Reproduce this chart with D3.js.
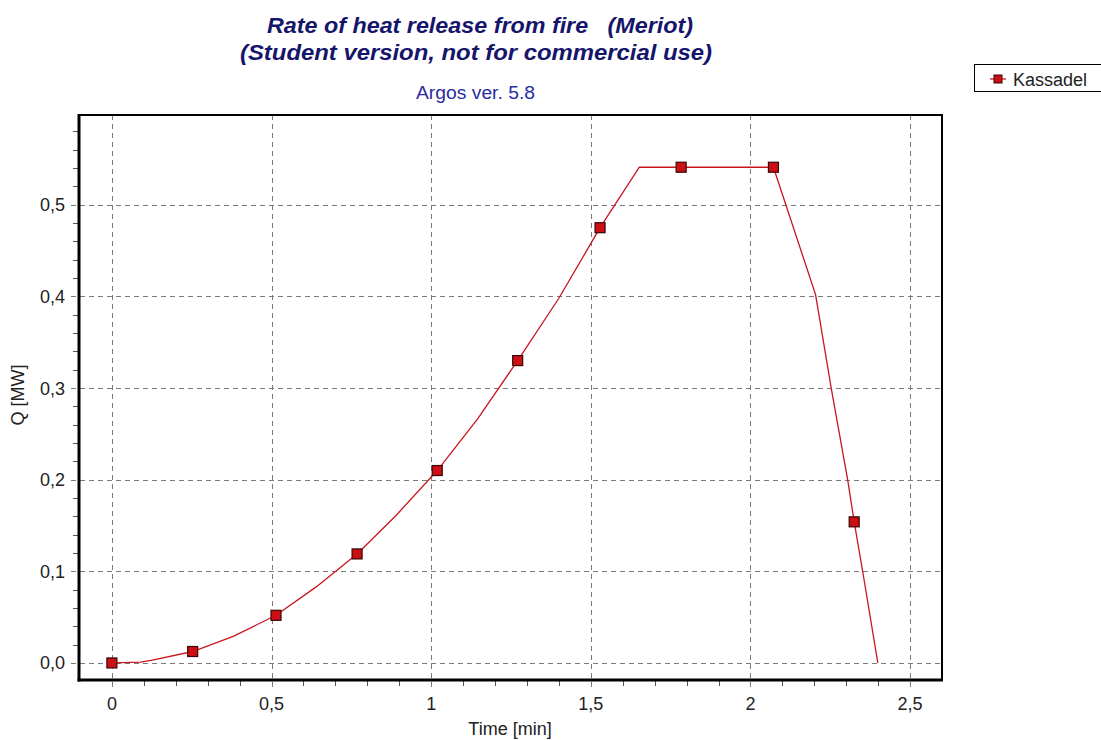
<!DOCTYPE html>
<html>
<head>
<meta charset="utf-8">
<script src="https://cdn.jsdelivr.net/npm/d3@7"></script>
<style>
  html, body { margin: 0; padding: 0; background: #fff; }
  svg { display: block; font-family: Arial, "Liberation Sans", sans-serif; }
</style>
</head>
<body>
<svg id="chart" width="1101" height="740"></svg>
<script>
// Heat release curve (polyline vertices), time in minutes, Q in MW
const lineTime = [0, 0.09, 0.127, 0.253, 0.38, 0.514, 0.64, 0.768, 0.89, 1.019, 1.145, 1.271, 1.40, 1.529, 1.652, 1.783, 2.072, 2.204, 2.253, 2.305, 2.325, 2.352, 2.399];
const lineQ    = [0, 0.001, 0.003, 0.0125, 0.029, 0.052, 0.083, 0.119, 0.161, 0.210, 0.266, 0.330, 0.398, 0.475, 0.541, 0.541, 0.541, 0.402, 0.300, 0.199, 0.154, 0.099, 0];

// Square markers on the "Kassadel" series
const markerTime = [0, 0.253, 0.514, 0.768, 1.019, 1.271, 1.529, 1.783, 2.072, 2.325];
const markerQ    = [0, 0.0125, 0.052, 0.119, 0.210, 0.330, 0.475, 0.541, 0.541, 0.154];

// Axis ticks
const xTicks = [0, 0.5, 1, 1.5, 2, 2.5];
const xTickLabels = ["0", "0,5", "1", "1,5", "2", "2,5"];
const yTicks = [0, 0.1, 0.2, 0.3, 0.4, 0.5];
const yTickLabels = ["0,0", "0,1", "0,2", "0,3", "0,4", "0,5"];

const seriesName = "Kassadel";
const titleLines = ["Rate of heat release from fire   (Meriot)", "(Student version, not for commercial use)"];
const subtitle = "Argos ver. 5.8";
const xLabel = "Time [min]";
const yLabel = "Q [MW]";

const svg = d3.select("#chart");
const plot = { left: 79, right: 942, top: 115, bottom: 680 };

const x = d3.scaleLinear().domain([-0.103, 2.6]).range([plot.left, plot.right]);
const y = d3.scaleLinear().domain([-0.0186, 0.598]).range([plot.bottom, plot.top]);

const gridColor = "#7a7a7a";
const textColor = "#222";

// Minor ticks
const xMinor = d3.range(1, 26).map(i => i / 10).filter(v => Math.abs(v * 2 - Math.round(v * 2)) > 1e-6);
const yMinor = d3.range(1, 30).map(i => i / 50).filter(v => Math.abs(v * 10 - Math.round(v * 10)) > 1e-6);

svg.append("g").selectAll("line").data(xMinor).join("line")
  .attr("x1", d => Math.round(x(d)) + 0.5).attr("x2", d => Math.round(x(d)) + 0.5)
  .attr("y1", plot.bottom).attr("y2", plot.bottom + 6)
  .attr("stroke", "#555").attr("stroke-width", 1);

svg.append("g").selectAll("line").data(yMinor).join("line")
  .attr("y1", d => Math.round(y(d)) + 0.5).attr("y2", d => Math.round(y(d)) + 0.5)
  .attr("x1", plot.left - 6).attr("x2", plot.left)
  .attr("stroke", "#555").attr("stroke-width", 1);

// Dashed grid lines, extending past the frame as major ticks
svg.append("g").selectAll("line").data(xTicks).join("line")
  .attr("x1", d => Math.round(x(d)) + 0.5).attr("x2", d => Math.round(x(d)) + 0.5)
  .attr("y1", plot.top).attr("y2", plot.bottom + 8)
  .attr("stroke", gridColor).attr("stroke-width", 1).attr("stroke-dasharray", "5,4");

svg.append("g").selectAll("line").data(yTicks).join("line")
  .attr("y1", d => Math.round(y(d)) + 0.5).attr("y2", d => Math.round(y(d)) + 0.5)
  .attr("x1", plot.left - 8).attr("x2", plot.right)
  .attr("stroke", gridColor).attr("stroke-width", 1).attr("stroke-dasharray", "5,4");

// Tick labels
svg.append("g").selectAll("text").data(xTicks).join("text")
  .attr("x", d => x(d)).attr("y", 710)
  .attr("text-anchor", "middle").attr("font-size", 18).attr("fill", textColor)
  .text((d, i) => xTickLabels[i]);

svg.append("g").selectAll("text").data(yTicks).join("text")
  .attr("x", 65).attr("y", d => y(d) + 6.5)
  .attr("text-anchor", "end").attr("font-size", 18).attr("fill", textColor)
  .text((d, i) => yTickLabels[i]);

// Series line
const pts = lineTime.map((t, i) => [t, lineQ[i]]);
svg.append("path")
  .datum(pts)
  .attr("fill", "none").attr("stroke", "#c8161d").attr("stroke-width", 1.3)
  .attr("d", d3.line().x(d => x(d[0])).y(d => y(d[1])));

// Markers
const ms = 10;
svg.append("g").selectAll("rect").data(markerTime.map((t, i) => [t, markerQ[i]])).join("rect")
  .attr("x", d => x(d[0]) - ms / 2).attr("y", d => y(d[1]) - ms / 2)
  .attr("width", ms).attr("height", ms)
  .attr("fill", "#cc0f14").attr("stroke", "#3a0505").attr("stroke-width", 1.2);

// Plot frame: heavier left/bottom edges
svg.append("line").attr("x1", plot.left).attr("x2", plot.right + 1)
  .attr("y1", plot.top).attr("y2", plot.top).attr("stroke", "#000").attr("stroke-width", 2);
svg.append("line").attr("x1", plot.right).attr("x2", plot.right)
  .attr("y1", plot.top).attr("y2", plot.bottom).attr("stroke", "#000").attr("stroke-width", 2);
svg.append("line").attr("x1", plot.left).attr("x2", plot.left)
  .attr("y1", plot.top - 1).attr("y2", plot.bottom + 1.5).attr("stroke", "#000").attr("stroke-width", 3);
svg.append("line").attr("x1", plot.left - 1.5).attr("x2", plot.right + 1)
  .attr("y1", plot.bottom).attr("y2", plot.bottom).attr("stroke", "#000").attr("stroke-width", 3);

// Titles
const titleWidths = [426, 472];
const titleCenters = [480, 476];
titleLines.forEach((s, i) => {
  svg.append("text")
    .attr("x", titleCenters[i] - titleWidths[i] / 2).attr("y", 33 + i * 27)
    .attr("textLength", titleWidths[i]).attr("lengthAdjust", "spacingAndGlyphs")
    .attr("font-size", 22).attr("font-weight", "bold").attr("font-style", "italic")
    .attr("fill", "#15156b").attr("xml:space", "preserve").style("white-space", "pre")
    .text(s);
});

svg.append("text").attr("x", 416).attr("y", 99)
  .attr("textLength", 119).attr("lengthAdjust", "spacingAndGlyphs")
  .attr("font-size", 18).attr("fill", "#2c2ca0").text(subtitle);

// Axis titles
svg.append("text").attr("x", 510).attr("y", 735).attr("text-anchor", "middle")
  .attr("font-size", 18).attr("fill", textColor).text(xLabel);
svg.append("text").attr("transform", "translate(24,395) rotate(-90)").attr("text-anchor", "middle")
  .attr("font-size", 18).attr("fill", textColor).text(yLabel);

// Legend
const lg = svg.append("g");
lg.append("rect").attr("x", 974.5).attr("y", 64.5).attr("width", 140).attr("height", 27)
  .attr("fill", "#fff").attr("stroke", "#000").attr("stroke-width", 1);
lg.append("line").attr("x1", 990).attr("x2", 1006).attr("y1", 79).attr("y2", 79)
  .attr("stroke", "#c8161d").attr("stroke-width", 1.3);
lg.append("rect").attr("x", 994).attr("y", 75).attr("width", 8).attr("height", 8)
  .attr("fill", "#cc0f14").attr("stroke", "#3a0505").attr("stroke-width", 1);
lg.append("text").attr("x", 1013).attr("y", 86).attr("font-size", 18).attr("fill", textColor).text(seriesName);
</script>
</body>
</html>
